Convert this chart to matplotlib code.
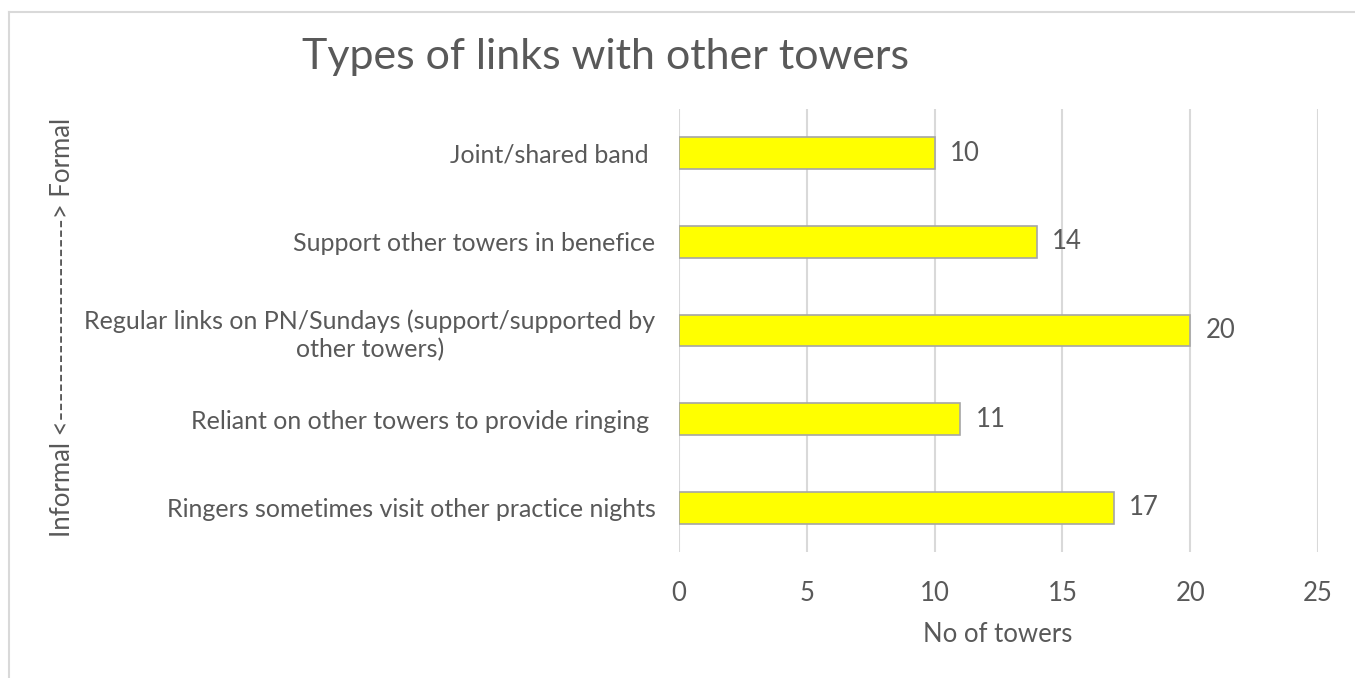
import matplotlib.pyplot as plt
from matplotlib.lines import Line2D

plt.rcParams['font.family'] = ['Lato', 'DejaVu Sans']

# link types, top to bottom
categories = [
    "Joint/shared band ",
    "Support other towers in benefice",
    "Regular links on PN/Sundays (support/supported by\nother towers)",
    "Reliant on other towers to provide ringing ",
    "Ringers sometimes visit other practice nights",
]
towers = [10, 14, 20, 11, 17]
xticks = [0, 5, 10, 15, 20, 25]

txt = '#595959'
grid = '#d9d9d9'
fs = 18

fig = plt.figure(figsize=(13.55, 6.78), dpi=100)
ax = fig.add_axes([679/1355, 1 - 552/678, (1318 - 679)/1355, (552 - 109)/678])

ypos = list(range(len(categories)))[::-1]
ax.barh(ypos, towers, height=0.36, color='#ffff00', edgecolor='#a6a6a6', linewidth=1.2, zorder=3)

for y, v in zip(ypos, towers):
    ax.annotate(str(v), (v, y), xytext=(11, 0), textcoords='offset points',
                va='center', ha='left', fontsize=18.5, color=txt)

ax.set_xlim(0, 25)
ax.set_ylim(-0.5, len(categories) - 0.5)
ax.set_xticks(xticks)
ax.set_xticklabels([str(t) for t in xticks], fontsize=18.5, color=txt)
ax.set_yticks(ypos)
ax.set_yticklabels(categories, fontsize=fs, color=txt, multialignment='center', linespacing=1.3)
ax.tick_params(axis='both', length=0)
ax.tick_params(axis='x', pad=21)
ax.tick_params(axis='y', pad=17)
ax.grid(axis='x', color=grid, linewidth=1.5, zorder=0)
for s in ax.spines.values():
    s.set_visible(False)

fig.text(605/1355, 1 - 57/678, "Types of links with other towers", ha='center', va='center',
         fontsize=31, color=txt)
fig.text(998/1355, 1 - 634/678, "No of towers", ha='center', va='center', fontsize=18.5, color=txt)
fig.text(63/1355, 1 - 327/678, "Informal <---------------------> Formal", rotation=90,
         ha='center', va='center', fontsize=18.5, color=txt)

# chart border (top and left edges)
fig.add_artist(Line2D([9/1355, 1], [1 - 12/678] * 2, color=grid, linewidth=1.5))
fig.add_artist(Line2D([9/1355] * 2, [0, 1 - 12/678], color=grid, linewidth=1.5))

fig.savefig('out.png', dpi=100)
